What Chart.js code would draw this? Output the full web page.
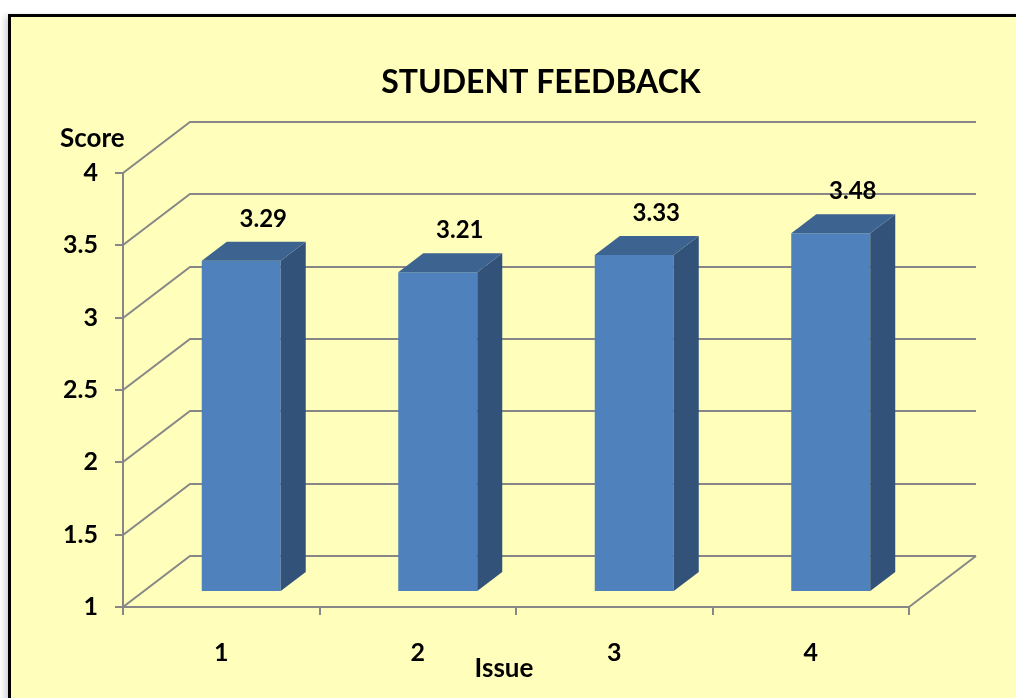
<!DOCTYPE html>
<html>
<head>
<meta charset="utf-8">
<script src="https://cdn.jsdelivr.net/npm/chart.js@4"></script>
<style>
  html, body { margin: 0; padding: 0; background: #ffffff; width: 1016px; height: 698px; overflow: hidden; }
  #frame { position: absolute; left: 8px; top: 14px; width: 1100px; height: 800px;
           border: 3px solid #000; background: #FFFFBB; box-shadow: -3px 2px 6px rgba(0,0,0,0.18); }
  #c { position: absolute; left: 0; top: 0; }
</style>
</head>
<body>
<div id="frame"></div>
<canvas id="c" width="1016" height="698"></canvas>
<script>
// ---- data ----
const categories = ['1', '2', '3', '4'];
const scores = [3.29, 3.21, 3.33, 3.48];
const yTickValues = [1, 1.5, 2, 2.5, 3, 3.5, 4];
const chartTitle = 'STUDENT FEEDBACK';
const yTitle = 'Score';
const xTitle = 'Issue';

// ---- style ----
const FONT = 'Lato, "Open Sans", sans-serif';
const GRID = '#878787';
const FRONT = '#4F81BD', TOP = '#3D6391', SIDE = '#32527A';
const DEPTH_X = 67, DEPTH_Y = -51;       // full depth of the 3D box
const BAR_T0 = 0.3, BAR_T = 0.37;         // bar plane position and bar depth (fractions)

const OX = Math.round(DEPTH_X * BAR_T0), OY = Math.round(DEPTH_Y * BAR_T0);
const BDX = Math.round(DEPTH_X * BAR_T), BDY = Math.round(DEPTH_Y * BAR_T);

const box3d = {
  id: 'box3d',
  beforeDatasetsDraw(chart) {
    const ctx = chart.ctx, a = chart.chartArea, ys = chart.scales.y;
    ctx.save();
    ctx.strokeStyle = GRID;
    ctx.lineWidth = 2;
    ctx.beginPath();
    yTickValues.forEach(v => {
      const py = Math.round(ys.getPixelForValue(v));
      ctx.moveTo(a.left, py);
      ctx.lineTo(a.left + DEPTH_X, py + DEPTH_Y);
      ctx.lineTo(a.right + DEPTH_X, py + DEPTH_Y);
    });
    const pb = Math.round(ys.getPixelForValue(ys.min));
    ctx.moveTo(a.right, pb);
    ctx.lineTo(a.right + DEPTH_X, pb + DEPTH_Y);
    ctx.stroke();
    ctx.restore();
    // shift bars to their depth plane
    ctx.save();
    ctx.translate(OX, OY);
  },
  afterDatasetsDraw(chart) {
    const ctx = chart.ctx, ys = chart.scales.y;
    ctx.restore();
    const meta = chart.getDatasetMeta(0);
    const floorPx = ys.getPixelForValue(ys.min);
    ctx.save();
    meta.data.forEach((el, i) => {
      const p = el.getProps(['x', 'y', 'base', 'width'], true);
      const L = p.x - p.width / 2 + OX, R = p.x + p.width / 2 + OX;
      const T = p.y + OY, B = Math.min(p.base, floorPx) + OY;
      // side
      ctx.fillStyle = SIDE;
      ctx.beginPath();
      ctx.moveTo(R, T); ctx.lineTo(R + BDX, T + BDY);
      ctx.lineTo(R + BDX, B + BDY); ctx.lineTo(R, B); ctx.closePath();
      ctx.fill();
      // top
      ctx.fillStyle = TOP;
      ctx.beginPath();
      ctx.moveTo(L, T); ctx.lineTo(L + BDX, T + BDY);
      ctx.lineTo(R + BDX, T + BDY); ctx.lineTo(R, T); ctx.closePath();
      ctx.fill();
      // value label
      ctx.fillStyle = '#000';
      ctx.font = 'bold 24px ' + FONT;
      ctx.textAlign = 'center';
      ctx.textBaseline = 'alphabetic';
      ctx.fillText(scores[i].toFixed(2), p.x + OX + 22, T + BDY - 15);
    });
    ctx.restore();
  },
  afterDraw(chart) {
    const ctx = chart.ctx, a = chart.chartArea;
    ctx.save();
    ctx.fillStyle = '#000';
    ctx.textBaseline = 'alphabetic';
    ctx.font = 'bold 32px ' + FONT;
    ctx.textAlign = 'center';
    ctx.fillText(chartTitle, 541, 93);
    ctx.font = 'bold 26px ' + FONT;
    ctx.textAlign = 'left';
    ctx.fillText(yTitle, a.left - 63, a.top - 26);
    ctx.textAlign = 'center';
    ctx.fillText(xTitle, (a.left + a.right) / 2 - 12, a.bottom + 70);
    ctx.restore();
  }
};

new Chart(document.getElementById('c'), {
  type: 'bar',
  data: {
    labels: categories,
    datasets: [{
      data: scores,
      base: yTickValues[0],
      backgroundColor: FRONT,
      borderWidth: 0,
      barPercentage: 0.402,
      categoryPercentage: 1.0
    }]
  },
  options: {
    responsive: false,
    devicePixelRatio: 1,
    animation: false,
    layout: { padding: { top: 173, left: 0, right: 107, bottom: 0 } },
    plugins: { legend: { display: false }, tooltip: { enabled: false }, title: { display: false } },
    scales: {
      x: {
        afterFit(s) { s.height = 91; },
        grid: { offset: true, drawOnChartArea: false, drawTicks: true, tickLength: 8, color: GRID, lineWidth: 2 },
        border: { display: true, color: GRID, width: 2 },
        ticks: { color: '#000', font: { family: FONT, size: 25, weight: 'bold' }, padding: 23 }
      },
      y: {
        min: 1, max: 4,
        afterFit(s) { s.width = 123; },
        afterBuildTicks(s) { s.ticks = yTickValues.map(v => ({ value: v })); },
        grid: { drawOnChartArea: false, drawTicks: true, tickLength: 8, color: GRID, lineWidth: 2 },
        border: { display: true, color: GRID, width: 2 },
        ticks: { color: '#000', font: { family: FONT, size: 25, weight: 'bold' }, padding: 17,
                 callback: v => String(v) }
      }
    }
  },
  plugins: [box3d]
});
</script>
</body>
</html>
